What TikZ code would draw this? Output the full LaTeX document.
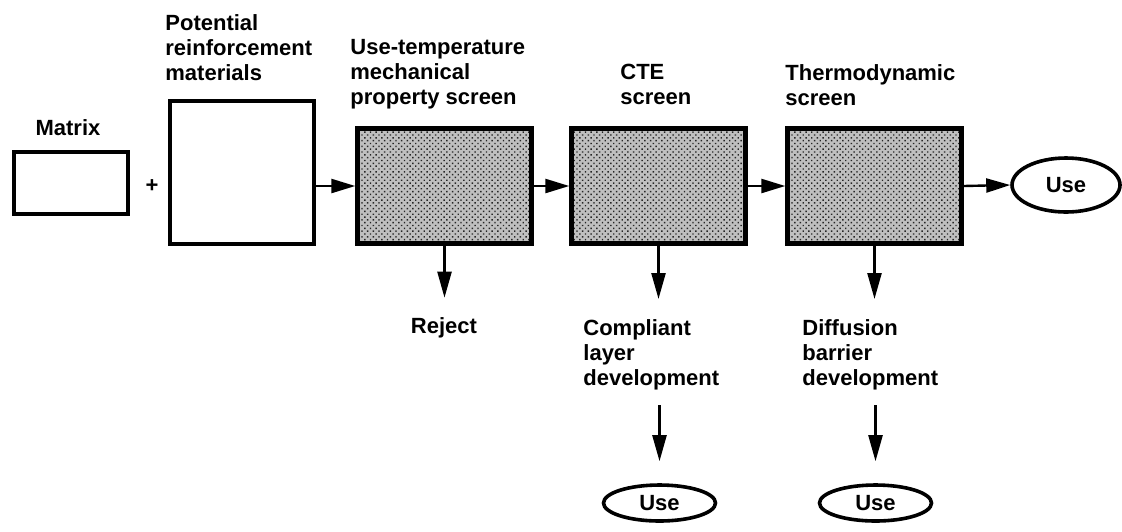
\documentclass[tikz,border=0pt]{standalone}
\usepackage{fontspec}
\setmainfont{Liberation Sans}
\usetikzlibrary{arrows.meta,shapes.geometric,patterns.meta}
\begin{document}
\begin{tikzpicture}[x=0.5pt,y=-0.5pt,
  lbl/.style={font={\fontsize{11pt}{12.5pt}\selectfont\bfseries},inner sep=0pt,align=left},
  plainbox/.style={draw,line width=2.2pt,fill=white,inner sep=0pt},
  screenbox/.style={draw,line width=2.2pt,inner sep=0pt,minimum width=87pt,minimum height=57.5pt,
     preaction={fill=black!25},pattern={Dots[distance=2pt,radius=0.5pt,angle=45]},pattern color=black!85},
  useell/.style={draw,ellipse,line width=1.8pt,inner sep=0pt,font={\fontsize{11pt}{12.5pt}\selectfont\bfseries}},
  arr/.style={line width=1.2pt,-{Triangle[length=12pt,width=7pt]}},
  arrlong/.style={line width=1.2pt,-{Triangle[length=13pt,width=7pt]}}]
\useasboundingbox (0,0) rectangle (1122,531);

% boxes
\node[plainbox,minimum width=57pt,minimum height=31pt] (mat) at (71,183) {};
\node[plainbox,minimum width=72pt,minimum height=71.5pt] (pot) at (242,172.5) {};
\node[screenbox] (s1) at (444.5,186) {};
\node[screenbox] (s2) at (658.5,186) {};
\node[screenbox] (s3) at (874.5,186) {};

% ellipses
\node[useell,minimum width=54pt,minimum height=27pt] (use1) at (1066,185) {Use};
\node[useell,minimum width=56pt,minimum height=18pt] (use2) at (659.5,503) {Use};
\node[useell,minimum width=56pt,minimum height=18pt] (use3) at (875.5,503) {Use};

% labels
\node[lbl,anchor=base] (matl) at (68,135) {Matrix};
\node[lbl] (plus) at (152,186) {+};
\node[lbl,anchor=north west] (potl) at (165,14) {Potential\\reinforcement\\materials};
\node[lbl,anchor=north west] (s1l) at (350,39) {Use-temperature\\mechanical\\property screen};
\node[lbl,anchor=north west] (s2l) at (620,64) {CTE\\screen};
\node[lbl,anchor=north west] (s3l) at (785,64) {Thermodynamic\\screen};
\node[lbl,anchor=base] (rej) at (444,333) {Reject};
\node[lbl,anchor=north west] (comp) at (583,319) {Compliant\\layer\\development};
\node[lbl,anchor=north west] (diff) at (802,319) {Diffusion\\barrier\\development};

% connectors
\draw[arr] (pot.east |- s1.west) -- (s1.west);
\draw[arr] (s1.east) -- (s2.west);
\draw[arr] (s2.east) -- (s3.west);
\draw[arr] (s3.east) -- (use1.west);
\draw[arrlong,shorten >=9.5pt] (s1.south) -- (s1.south |- rej.north);
\draw[arrlong,shorten >=10pt] (s2.south) -- (s2.south |- comp.north);
\draw[arrlong,shorten >=10pt] (s3.south) -- (s3.south |- diff.north);
\draw[arrlong,shorten <=7.5pt,shorten >=11pt] (comp.south -| use2.north) -- (use2.north);
\draw[arrlong,shorten <=7.5pt,shorten >=11pt] (diff.south -| use3.north) -- (use3.north);
\end{tikzpicture}
\end{document}
